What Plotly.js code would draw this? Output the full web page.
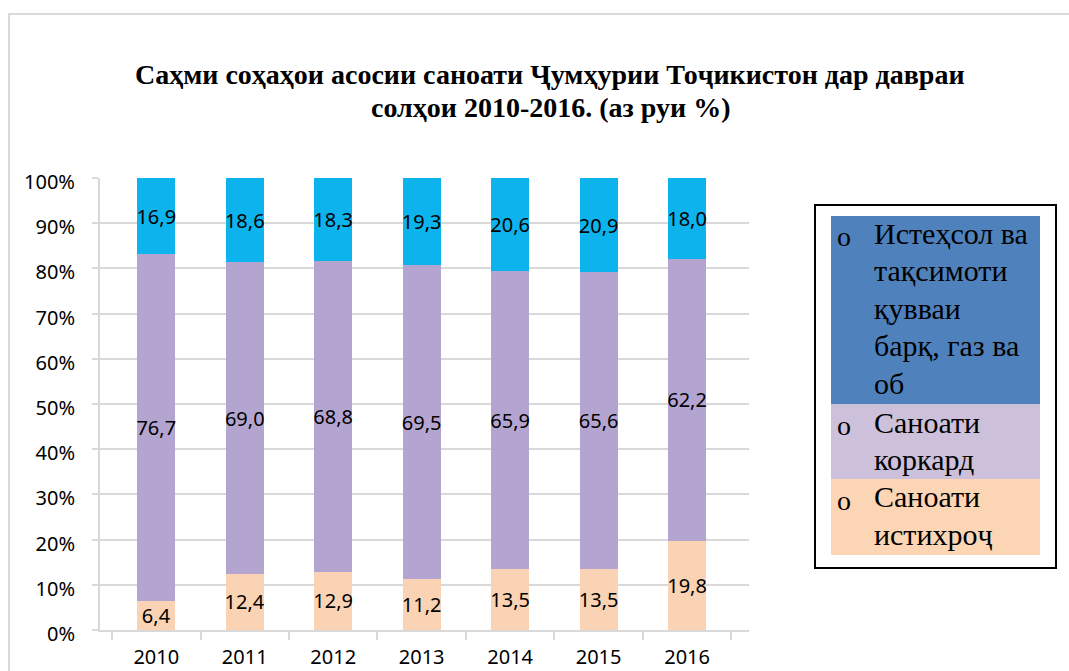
<!DOCTYPE html>
<html>
<head>
<meta charset="utf-8">
<script src="https://cdn.plot.ly/plotly-3.0.1.min.js"></script>
<style>html,body{margin:0;padding:0;background:#fff;}#chart{width:1069px;height:671px;}</style>
</head>
<body>
<div id="chart"></div>
<script>
// ---- data ----
var years = ['2010', '2011', '2012', '2013', '2014', '2015', '2016'];
var extraction = [6.4, 12.4, 12.9, 11.2, 13.5, 13.5, 19.8];      // Саноати истихроҷ
var processing = [76.7, 69.0, 68.8, 69.5, 65.9, 65.6, 62.2];     // Саноати коркард
var energy = [16.9, 18.6, 18.3, 19.3, 20.6, 20.9, 18.0];         // Истеҳсол ва тақсимоти қувваи барқ, газ ва об
var yTicks = [0, 10, 20, 30, 40, 50, 60, 70, 80, 90, 100];
var titleLines = ['Саҳми соҳаҳои асосии саноати Ҷумҳурии Тоҷикистон дар давраи', 'солҳои 2010-2016. (аз руи %)'];
var legendLines = [
  ['Истеҳсол ва', 'тақсимоти', 'қувваи', 'барқ, газ ва', 'об'],
  ['Саноати', 'коркард'],
  ['Саноати', 'истихроҷ']
];

function fmt(v) { return v.toFixed(1).replace('.', ','); }

var W = 1069, H = 671;
var M = {l: 100, r: 320, t: 178, b: 41};
var PW = W - M.l - M.r, PH = H - M.t - M.b;
function px(x) { return (x - M.l) / PW; }
function py(y) { return (H - M.b - y) / PH; }

var labelFont = {family: 'Noto Sans, Open Sans, sans-serif', size: 20, color: '#000'};

function mk(name, vals, color) {
  return {
    type: 'bar', name: name, x: years, y: vals,
    text: vals.map(fmt), textposition: 'inside', insidetextanchor: 'middle',
    constraintext: 'none', textfont: labelFont, textangle: 0,
    marker: {color: color, line: {width: 0}},
    hoverinfo: 'skip', showlegend: false
  };
}

var traces = [
  mk('Саноати истихроҷ', extraction, '#F9D3B4'),
  mk('Саноати коркард', processing, '#B4A5D0'),
  mk('Истеҳсол ва тақсимот', energy, '#0DB3EC')
];

var shapes = [
  // outer chart frame (top + left)
  {type: 'line', xref: 'paper', yref: 'paper', x0: px(8), x1: px(1069), y0: py(14), y1: py(14), line: {color: '#D9D9D9', width: 2}},
  {type: 'line', xref: 'paper', yref: 'paper', x0: px(9), x1: px(9), y0: py(14), y1: py(671), line: {color: '#D9D9D9', width: 2}},
  // legend box
  {type: 'rect', xref: 'paper', yref: 'paper', x0: px(815), x1: px(1056), y0: py(205), y1: py(568), line: {color: '#000', width: 2}, fillcolor: '#fff'},
  {type: 'rect', xref: 'paper', yref: 'paper', x0: px(831), x1: px(1040), y0: py(216), y1: py(404), line: {width: 0}, fillcolor: '#4F81BD'},
  {type: 'rect', xref: 'paper', yref: 'paper', x0: px(831), x1: px(1040), y0: py(404), y1: py(479), line: {width: 0}, fillcolor: '#CCC0DA'},
  {type: 'rect', xref: 'paper', yref: 'paper', x0: px(831), x1: px(1040), y0: py(479), y1: py(555), line: {width: 0}, fillcolor: '#FCD5B5'}
];

var serif = 'Liberation Serif, Times New Roman, serif';
var annotations = [];
// title lines
var titleY = [75, 107];
titleLines.forEach(function (t, i) {
  annotations.push({xref: 'paper', yref: 'paper', x: px(550), y: py(titleY[i]), xanchor: 'center', yanchor: 'middle',
    text: '<b>' + t + '</b>', showarrow: false, font: {family: serif, size: 28, color: '#000'}});
});
// legend text
var legStart = [233, 422, 497];
var lineStep = 37.5;
legendLines.forEach(function (lines, i) {
  lines.forEach(function (ln, j) {
    annotations.push({xref: 'paper', yref: 'paper', x: px(872), y: py(legStart[i] + j * lineStep), xanchor: 'left', yanchor: 'middle',
      text: ln, showarrow: false, align: 'left', font: {family: serif, size: 30, color: '#000'}});
  });
  annotations.push({xref: 'paper', yref: 'paper', x: px(844), y: py(legStart[i] + 3), xanchor: 'center', yanchor: 'middle',
    text: 'o', showarrow: false, font: {family: serif, size: 28, color: '#000'}});
});

var layout = {
  width: W, height: H,
  margin: M,
  paper_bgcolor: '#fff', plot_bgcolor: '#fff',
  barmode: 'stack', bargap: 0.57,
  xaxis: {
    type: 'category', range: [-0.636, 6.7],
    tickson: 'boundaries', ticks: 'outside', ticklen: 8, tickcolor: '#D9D9D9', tickwidth: 2,
    showline: true, linecolor: '#D9D9D9', linewidth: 2,
    tickfont: labelFont, ticklabelstandoff: 8, showgrid: false, fixedrange: true
  },
  yaxis: {
    range: [0, 100], tickvals: yTicks, ticktext: yTicks.map(function (v) { return v + '%'; }),
    ticks: 'outside', ticklen: 6, tickcolor: '#D9D9D9', tickwidth: 2,
    showline: true, linecolor: '#D9D9D9', linewidth: 2,
    gridcolor: '#D9D9D9', gridwidth: 2, zeroline: false,
    tickfont: labelFont, ticklabelstandoff: 13, ticklabelshift: 4, fixedrange: true
  },
  shapes: shapes,
  annotations: annotations,
  showlegend: false
};

Plotly.newPlot('chart', traces, layout, {staticPlot: true, displayModeBar: false});
</script>
</body>
</html>
